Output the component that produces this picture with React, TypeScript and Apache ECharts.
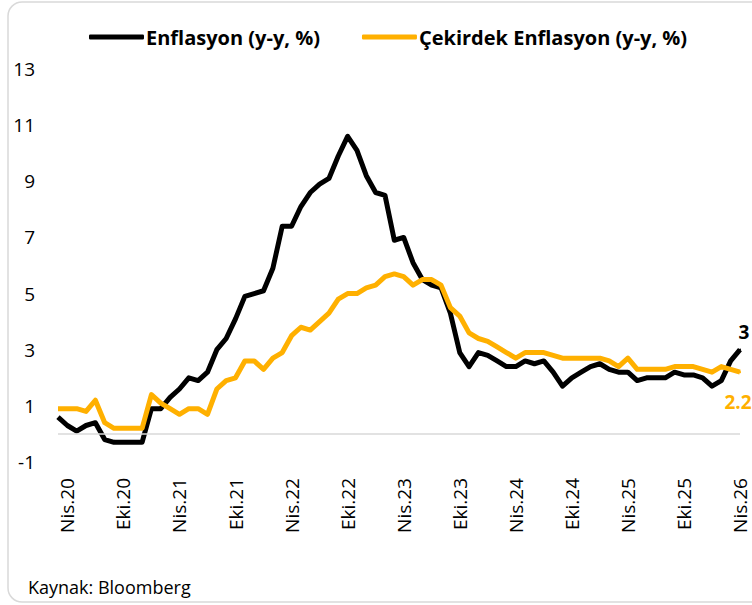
import React, { useEffect, useRef } from "react";
import * as echarts from "echarts";

// Monthly categories: Mar 2020 .. Apr 2026 (Turkish month abbreviations)
const monthNames = ["Oca", "Şub", "Mar", "Nis", "May", "Haz", "Tem", "Ağu", "Eyl", "Eki", "Kas", "Ara"];
const startYear = 2020;
const startMonth = 2; // March
const monthCount = 74;
const categories: string[] = Array.from({ length: monthCount }, (_, k) => {
  const m = (startMonth + k) % 12;
  const y = startYear + Math.floor((startMonth + k) / 12);
  return `${monthNames[m]}.${String(y).slice(2)}`;
});

// Headline inflation (y/y, %)
const headline = [
  0.6, 0.3, 0.1, 0.3, 0.4, -0.2, -0.3, -0.3, -0.3, -0.3,
  0.9, 0.9, 1.3, 1.6, 2.0, 1.9, 2.2, 3.0, 3.4, 4.1,
  4.9, 5.0, 5.1, 5.9, 7.4, 7.4, 8.1, 8.6, 8.9, 9.1,
  9.9, 10.6, 10.1, 9.2, 8.6, 8.5, 6.9, 7.0, 6.1, 5.5,
  5.3, 5.2, 4.3, 2.9, 2.4, 2.9, 2.8, 2.6, 2.4, 2.4,
  2.6, 2.5, 2.6, 2.2, 1.7, 2.0, 2.2, 2.4, 2.5, 2.3,
  2.2, 2.2, 1.9, 2.0, 2.0, 2.0, 2.2, 2.1, 2.1, 2.0,
  1.7, 1.9, 2.6, 3.0,
];

// Core inflation (y/y, %)
const core = [
  0.9, 0.9, 0.9, 0.8, 1.2, 0.4, 0.2, 0.2, 0.2, 0.2,
  1.4, 1.1, 0.9, 0.7, 0.9, 0.9, 0.7, 1.6, 1.9, 2.0,
  2.6, 2.6, 2.3, 2.7, 2.9, 3.5, 3.8, 3.7, 4.0, 4.3,
  4.8, 5.0, 5.0, 5.2, 5.3, 5.6, 5.7, 5.6, 5.3, 5.5,
  5.5, 5.3, 4.5, 4.2, 3.6, 3.4, 3.3, 3.1, 2.9, 2.7,
  2.9, 2.9, 2.9, 2.8, 2.7, 2.7, 2.7, 2.7, 2.7, 2.6,
  2.4, 2.7, 2.3, 2.3, 2.3, 2.3, 2.4, 2.4, 2.4, 2.3,
  2.2, 2.4, 2.3, 2.2,
];

const seriesNames = ["Enflasyon (y-y, %)", "Çekirdek Enflasyon (y-y, %)"];
const yTicks = { min: -1, max: 13, interval: 2 };
const sourceText = "Kaynak: Bloomberg";

const BLACK = "#000000";
const ORANGE = "#FFB000";
const FONT = "'Open Sans', sans-serif";

function withLastLabel(values: number[], color: string, position: string, distance: number, dx: number) {
  return values.map((v, i) =>
    i === values.length - 1
      ? {
          value: v,
          symbol: "circle",
          symbolSize: 2,
          label: {
            show: true,
            position,
            distance,
            offset: [dx, 0],
            color,
            fontSize: 19,
            fontWeight: "bold",
            fontFamily: FONT,
          },
        }
      : { value: v, symbol: "none" }
  );
}

export default function App() {
  const ref = useRef<HTMLDivElement>(null);

  useEffect(() => {
    if (!ref.current) return;
    const chart = echarts.init(ref.current, undefined, { renderer: "svg" });
    chart.setOption({
      animation: false,
      backgroundColor: "#ffffff",
      textStyle: { fontFamily: FONT },
      graphic: [
        {
          type: "rect",
          shape: { x: 8, y: 2, width: 770, height: 600, r: 14 },
          style: { fill: "none", stroke: "#d9d9d9", lineWidth: 1.5 },
          silent: true,
          z: -1,
        },
        {
          type: "text",
          left: 28,
          top: 578,
          style: { text: sourceText, fill: "#000", fontSize: 18, fontFamily: FONT },
        },
      ],
      legend: {
        top: 22,
        left: 84,
        itemWidth: 55,
        itemHeight: 5,
        itemGap: 42,
        icon: "roundRect",
        data: seriesNames,
        textStyle: { fontSize: 20, fontWeight: "bold", color: "#000", fontFamily: FONT, padding: [0, 0, 0, -3] },
      },
      grid: { left: 58, right: 12, top: 69, bottom: 143, containLabel: false },
      xAxis: {
        type: "category",
        data: categories,
        boundaryGap: false,
        axisLine: { show: false },
        axisTick: { show: false },
        axisLabel: {
          interval: (index: number) => index % 6 === 1,
          rotate: 90,
          margin: 16,
          fontSize: 19,
          lineHeight: 16,
          color: "#000",
          fontFamily: FONT,
        },
        splitLine: { show: false },
      },
      yAxis: {
        type: "value",
        min: yTicks.min,
        max: yTicks.max,
        interval: yTicks.interval,
        axisLine: { show: false },
        axisTick: { show: false },
        splitLine: { show: false },
        axisLabel: { fontSize: 19, color: "#000", margin: 23, fontFamily: FONT },
      },
      series: [
        {
          name: seriesNames[0],
          type: "line",
          data: withLastLabel(headline, BLACK, "top", 7, 4),
          symbol: "circle",
          showSymbol: true,
          symbolSize: 2,
          lineStyle: { color: BLACK, width: 5, join: "round" },
          itemStyle: { color: BLACK },
          z: 3,
          markLine: {
            silent: true,
            symbol: ["none", "none"],
            label: { show: false },
            lineStyle: { color: "#d9d9d9", width: 1.5, type: "solid" },
            data: [{ yAxis: 0 }],
          },
        },
        {
          name: seriesNames[1],
          type: "line",
          data: withLastLabel(core, ORANGE, "bottom", 19, -2),
          symbol: "circle",
          showSymbol: true,
          symbolSize: 2,
          lineStyle: { color: ORANGE, width: 5, join: "round" },
          itemStyle: { color: ORANGE },
          z: 4,
        },
      ],
    });
    return () => chart.dispose();
  }, []);

  return (
    <div
      ref={ref}
      style={{ position: "fixed", left: 0, top: 0, width: 752, height: 605, background: "#fff" }}
    />
  );
}
